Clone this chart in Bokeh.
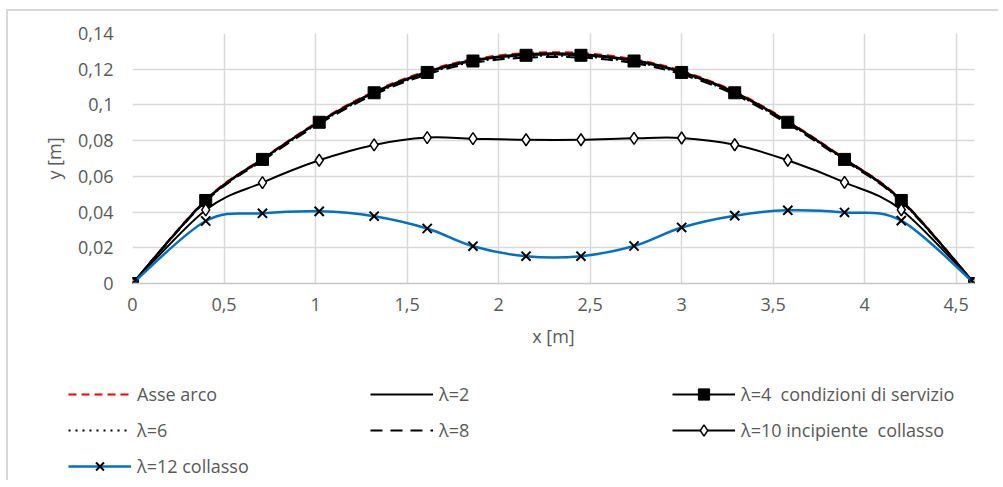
import numpy as np
from bokeh.plotting import figure
from bokeh.layouts import column, row
from bokeh.models import (FixedTicker, CustomJSTickFormatter, Legend, LegendItem, Range1d)
from bokeh.embed import file_html
from bokeh.resources import INLINE

# ---------------- data ----------------
x_m = [0, 0.40, 0.71, 1.02, 1.32, 1.61, 1.86, 2.15, 2.45, 2.74, 3.00, 3.29, 3.58, 3.89, 4.20, 4.60]
asse_arco = [0, 0.0470, 0.0700, 0.0910, 0.1076, 0.1191, 0.1256, 0.1291, 0.1291, 0.1256, 0.1191, 0.1076, 0.0910, 0.0700, 0.0470, 0]
lam2 = [0, 0.0468, 0.0698, 0.0907, 0.1072, 0.1186, 0.1251, 0.1285, 0.1285, 0.1251, 0.1186, 0.1072, 0.0907, 0.0698, 0.0468, 0]
lam4 = [0, 0.0465, 0.0695, 0.0903, 0.1068, 0.1182, 0.1246, 0.1278, 0.1278, 0.1246, 0.1182, 0.1068, 0.0903, 0.0695, 0.0465, 0]
lam6 = [0, 0.0462, 0.0692, 0.0899, 0.1063, 0.1177, 0.1240, 0.1272, 0.1272, 0.1240, 0.1177, 0.1063, 0.0899, 0.0692, 0.0462, 0]
lam8 = [0, 0.0460, 0.0688, 0.0894, 0.1058, 0.1171, 0.1234, 0.1265, 0.1265, 0.1234, 0.1171, 0.1058, 0.0894, 0.0688, 0.0460, 0]
lam10 = [0, 0.0412, 0.0565, 0.0690, 0.0776, 0.0817, 0.0811, 0.0805, 0.0805, 0.0813, 0.0815, 0.0777, 0.0690, 0.0566, 0.0413, 0]
lam12 = [0, 0.0350, 0.0393, 0.0404, 0.0377, 0.0308, 0.0209, 0.0153, 0.0153, 0.0210, 0.0314, 0.0380, 0.0410, 0.0398, 0.0352, 0]

x_ticks = [0, 0.5, 1, 1.5, 2, 2.5, 3, 3.5, 4, 4.5]
y_ticks = [0, 0.02, 0.04, 0.06, 0.08, 0.10, 0.12, 0.14]

labels = ["Asse arco", "\u03bb=2", "\u03bb=4 \u00a0condizioni di servizio",
          "\u03bb=6", "\u03bb=8", "\u03bb=10 incipiente \u00a0collasso", "\u03bb=12 collasso"]

FONT = "Open Sans"
TXT = "#595959"
GRID = "#d9d9d9"

# series styles: (line color, line width, dash, marker, marker size, marker fill)
STYLES = [
    ("#ff0000", 2, "8 5", None, 0, None),
    ("black", 2, "solid", None, 0, None),
    ("black", 2, "solid", "square", 12, "black"),
    ("black", 2, "2 5", None, 0, None),
    ("black", 2, "12 8", None, 0, None),
    ("black", 2, "solid", "diamond", 12, "white"),
    ("#0070C0", 2.5, "solid", "x", 13, None),
]
SERIES = [asse_arco, lam2, lam4, lam6, lam8, lam10, lam12]


def smooth(xs, ys):
    """Bezier control points for an Excel-like smoothed line."""
    X = np.asarray(xs, float)
    Y = np.asarray(ys, float)
    n = len(X)
    i = np.arange(n - 1)
    im1 = np.clip(i - 1, 0, n - 1)
    ip2 = np.clip(i + 2, 0, n - 1)
    return dict(
        x0=X[i], y0=Y[i], x1=X[i + 1], y1=Y[i + 1],
        cx0=X[i] + (X[i + 1] - X[im1]) / 6, cy0=Y[i] + (Y[i + 1] - Y[im1]) / 6,
        cx1=X[i + 1] - (X[ip2] - X[i]) / 6, cy1=Y[i + 1] - (Y[ip2] - Y[i]) / 6,
    )


def add_marker(fig, xs, ys, marker, size, fill):
    if marker == "x":
        return fig.scatter(xs, ys, marker="x", size=size, line_color="black", line_width=2)
    if marker == "diamond":
        return fig.scatter(xs, ys, marker="diamond", size=size, fill_color=fill,
                           line_color="black", line_width=1.5)
    return fig.scatter(xs, ys, marker=marker, size=size, fill_color=fill, line_color="black")


# ---------------- main chart ----------------
p = figure(width=990, height=347, output_backend="svg", toolbar_location=None,
           x_range=Range1d(0, 4.6), y_range=Range1d(0, 0.14),
           min_border_left=124, min_border_right=24, min_border_top=22, min_border_bottom=75)
p.outline_line_color = None
p.background_fill_color = "white"
p.border_fill_color = "white"

p.xaxis.ticker = FixedTicker(ticks=x_ticks)
p.yaxis.ticker = FixedTicker(ticks=y_ticks)
p.xaxis.formatter = CustomJSTickFormatter(code="""
let s = tick.toFixed(1).replace(/0+$/, '').replace(/\\.$/, '');
return s.replace('.', ',');""")
p.yaxis.formatter = CustomJSTickFormatter(code="""
let s = tick.toFixed(2).replace(/0+$/, '').replace(/\\.$/, '');
return s.replace('.', ',');""")

for ax in (p.xaxis, p.yaxis):
    ax.major_tick_line_color = None
    ax.minor_tick_line_color = None
    ax.major_label_text_font = FONT
    ax.major_label_text_font_size = "18px"
    ax.major_label_text_color = TXT
    ax.axis_label_text_font = FONT
    ax.axis_label_text_font_size = "18px"
    ax.axis_label_text_font_style = "normal"
    ax.axis_label_text_color = TXT

p.xaxis.axis_label = "x [m]"
p.yaxis.axis_label = "y [m]"
p.xaxis.axis_line_color = "#c8c8c8"
p.xaxis.axis_line_width = 1.5
p.yaxis.axis_line_color = None
p.xaxis.major_label_standoff = 8
p.xaxis.axis_label_standoff = 10
p.yaxis.major_label_standoff = 13
p.yaxis.axis_label_standoff = 9

p.xgrid.grid_line_color = GRID
p.ygrid.grid_line_color = GRID
p.xgrid.grid_line_width = 1.5
p.ygrid.grid_line_width = 1.5

for ys, (lc, lw, dash, mk, ms, mf) in zip(SERIES, STYLES):
    p.bezier(**smooth(x_m, ys), line_color=lc, line_width=lw, line_dash=dash)
    if mk:
        add_marker(p, x_m, ys, mk, ms, mf)

# ---------------- legend (separate panel below the chart) ----------------
pl = figure(width=990, height=122, output_backend="svg", toolbar_location=None,
            x_range=Range1d(0, 1), y_range=Range1d(0, 1),
            x_axis_type=None, y_axis_type=None,
            min_border_left=60, min_border_top=22, min_border_right=0, min_border_bottom=0)
pl.outline_line_color = None
pl.grid.visible = False
pl.border_fill_color = "white"
pl.background_fill_color = "white"

NOWHERE = [np.nan]  # legend proxies: nothing is drawn in the panel itself
items = []
for lab, (lc, lw, dash, mk, ms, mf) in zip(labels, STYLES):
    rs = [pl.line(NOWHERE, NOWHERE, line_color=lc, line_width=lw, line_dash=dash)]
    if mk:
        rs.append(add_marker(pl, NOWHERE, NOWHERE, mk, ms, mf))
    items.append(LegendItem(label=lab, renderers=rs))

legend = Legend(items=items, location="top_left", orientation="horizontal", ncols=3,
                glyph_width=63, glyph_height=28, label_height=20, label_width=225,
                label_standoff=6, spacing=8,
                padding=0, margin=0, border_line_color=None, background_fill_alpha=0,
                label_text_font=FONT, label_text_font_size="18px", label_text_color=TXT)
pl.add_layout(legend, "center")

layout = column(p, row(pl, spacing=0), spacing=0)
layout.styles = {"border-top": "2px solid #d9d9d9", "border-left": "2px solid #d9d9d9",
                 "margin-left": "6px", "margin-top": "9px"}

open("out.html", "w").write(file_html(layout, INLINE))
